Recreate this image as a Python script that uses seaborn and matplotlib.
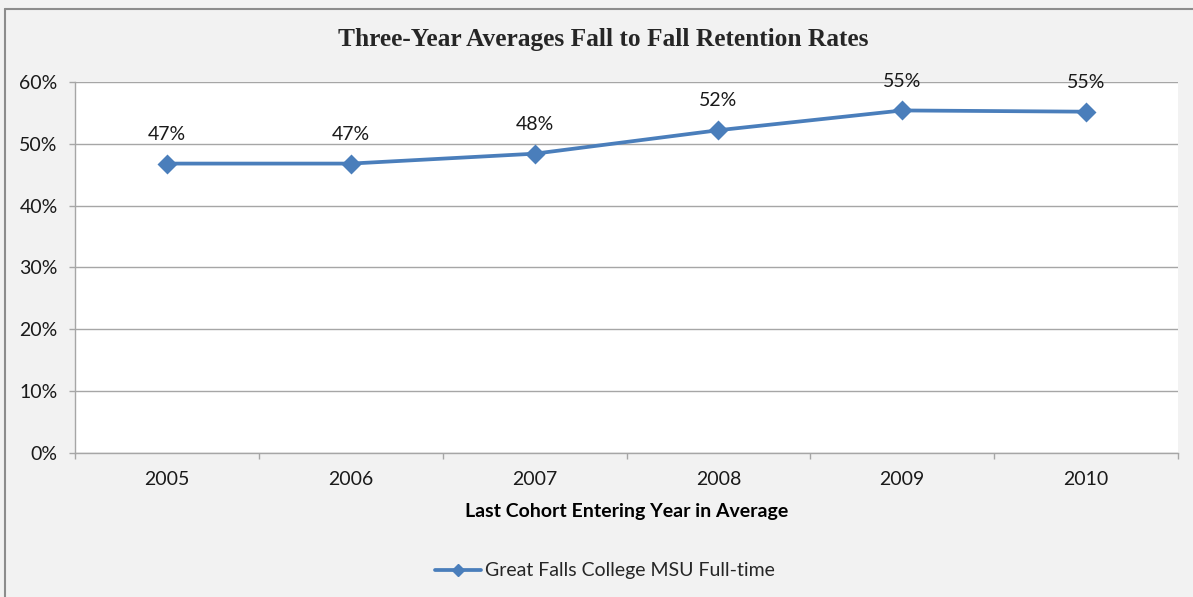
import pandas as pd
import seaborn as sns
import matplotlib.pyplot as plt
from matplotlib.lines import Line2D
from matplotlib.ticker import FixedLocator, FuncFormatter

# Chart data
years = ['2005', '2006', '2007', '2008', '2009', '2010']
retention = [46.8, 46.8, 48.4, 52.2, 55.4, 55.2]
series_name = 'Great Falls College MSU Full-time'
y_ticks = [0, 10, 20, 30, 40, 50, 60]

df = pd.DataFrame({'year': years, 'rate': retention})

sns.set_theme(style='white')
plt.rcParams['font.family'] = ['Lato', 'DejaVu Sans']

blue = '#4a7ebb'
grid_gray = '#a6a6a6'

fig = plt.figure(figsize=(11.93, 5.97), dpi=100, facecolor='#f2f2f2')
ax = fig.add_axes([0.0629, 0.2417, 0.9245, 0.6209])
ax.set_facecolor('white')

sns.pointplot(data=df, x='year', y='rate', ax=ax, color=blue,
              markers='D', linestyles='-', markersize=8.5, linewidth=2.7,
              errorbar=None)

# Data labels
for i, v in enumerate(retention):
    ax.annotate(f'{v:.0f}%', (i, v), xytext=(0, 15), textcoords='offset points',
                ha='center', va='bottom', fontsize=14, color='#1a1a1a')

ax.set_xlim(-0.5, len(years) - 0.5)
ax.set_ylim(0, 60)
ax.yaxis.set_major_locator(FixedLocator(y_ticks))
ax.yaxis.set_major_formatter(FuncFormatter(lambda v, p: f'{v:.0f}%'))
ax.grid(axis='y', color=grid_gray, linewidth=1)
ax.set_axisbelow(True)

ax.xaxis.set_minor_locator(FixedLocator([i - 0.5 for i in range(len(years) + 1)]))
ax.tick_params(axis='x', which='major', length=0, pad=13, labelsize=14, colors='#1a1a1a')
ax.tick_params(axis='x', which='minor', length=4.5, width=1, color=grid_gray, direction='out', bottom=True)
ax.tick_params(axis='y', length=4.5, width=1, color=grid_gray, direction='out', left=True,
               pad=8, labelsize=14, labelcolor='#1a1a1a')

for side in ['top', 'right']:
    ax.spines[side].set_visible(False)
for side in ['left', 'bottom']:
    ax.spines[side].set_color(grid_gray)
    ax.spines[side].set_linewidth(1)

ax.set_xlabel('Last Cohort Entering Year in Average', fontsize=14, fontweight='bold',
              color='black', labelpad=11)
ax.set_ylabel('')

fig.text(0.506, 0.933, 'Three-Year Averages Fall to Fall Retention Rates',
         ha='center', va='center', fontsize=18.3, fontweight='bold',
         family=['Liberation Serif', 'DejaVu Serif'])

handle = Line2D([], [], color=blue, marker='D', markersize=6.5, linewidth=2.7)
fig.legend([handle], [series_name], loc='center', bbox_to_anchor=(0.507, 0.0436),
           frameon=False, fontsize=14, handlelength=2.4, handletextpad=0.2,
           labelcolor='#262626')

# Outer chart border (left and top edges visible in the reference)
fig.add_artist(Line2D([0.0042, 0.0042], [0, 0.985], transform=fig.transFigure,
                      color='#8c8c8c', linewidth=1.5))
fig.add_artist(Line2D([0.0042, 1.0], [0.985, 0.985], transform=fig.transFigure,
                      color='#8c8c8c', linewidth=1.5))

fig.savefig('out.png', dpi=100, facecolor=fig.get_facecolor())
